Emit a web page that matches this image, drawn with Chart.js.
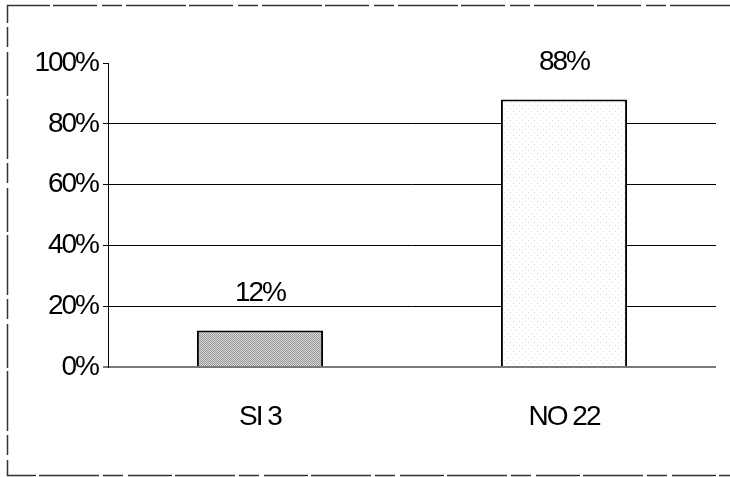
<!DOCTYPE html>
<html>
<head>
<meta charset="utf-8">
<script src="https://cdn.jsdelivr.net/npm/chart.js@4/dist/chart.umd.min.js"></script>
<style>
  html, body { margin: 0; padding: 0; background: #fff; }
  canvas { display: block; }
</style>
</head>
<body>
<canvas id="c" width="730" height="477"></canvas>
<script>
// Answers and their share of the total
const categories = ['SI 3', 'NO 22'];
const percentages = [12, 88];
const yTickValues = [0, 20, 40, 60, 80, 100];

const FONT = { family: '"Liberation Sans", Arial, sans-serif', size: 28 };

// Stippled fill for the bars
function stipple(bg, dot, step) {
  const p = document.createElement('canvas');
  p.width = step; p.height = step;
  const g = p.getContext('2d');
  g.fillStyle = bg; g.fillRect(0, 0, step, step);
  g.fillStyle = dot;
  g.fillRect(0, 0, 1, 1);
  g.fillRect(step / 2, step / 2, 1, 1);
  return g.createPattern(p, 'repeat');
}
const ctx0 = document.getElementById('c').getContext('2d');
const barFills = [stipple('#d6d6d6', '#9a9a9a', 2), stipple('#ffffff', '#dcdcdc', 6)];

// Frame around the whole figure (top, left and bottom edges)
const framePlugin = {
  id: 'frame',
  beforeDraw(chart) {
    const c = chart.ctx;
    c.letterSpacing = '-2px';
    c.save();
    c.strokeStyle = '#333';
    c.lineWidth = 1.5;
    c.setLineDash([60, 4, 20, 5, 44, 3]);
    c.beginPath();
    c.moveTo(730, 5.5); c.lineTo(7.5, 5.5);
    c.lineTo(7.5, 475.5); c.lineTo(730, 475.5);
    c.stroke();
    c.restore();
  }
};

// Percentage written above each bar
const valueLabels = {
  id: 'valueLabels',
  afterDatasetsDraw(chart) {
    const c = chart.ctx;
    const meta = chart.getDatasetMeta(0);
    c.save();
    c.font = `${FONT.size}px ${FONT.family}`;
    c.fillStyle = '#000';
    c.textAlign = 'center';
    c.textBaseline = 'middle';
    meta.data.forEach((bar, i) => {
      c.fillText(percentages[i] + '%', bar.x, bar.y - 37);
    });
    c.restore();
  }
};

new Chart(ctx0, {
  type: 'bar',
  data: {
    labels: categories,
    datasets: [{
      data: percentages,
      backgroundColor: barFills,
      borderColor: '#000',
      borderWidth: 2,
      borderSkipped: 'start',
      categoryPercentage: 1,
      barPercentage: 0.415
    }]
  },
  options: {
    responsive: false,
    animation: false,
    devicePixelRatio: 1,
    layout: { padding: { top: 63, right: 14, left: 0, bottom: 0 } },
    plugins: { legend: { display: false }, tooltip: { enabled: false } },
    scales: {
      x: {
        grid: { display: false, drawTicks: false },
        border: { display: false },
        ticks: { color: '#000', font: FONT, padding: 33, maxRotation: 0 },
        afterFit(s) { s.height = 110; }
      },
      y: {
        min: 0,
        max: 100,
        afterBuildTicks(s) { s.ticks = yTickValues.map(v => ({ value: v })); },
        grid: {
          color: c => c.tick.value === 100 ? 'rgba(0,0,0,0)' : (c.tick.value === 0 ? '#7a7a7a' : '#000'),
          lineWidth: c => c.tick.value === 0 ? 2 : 1,
          tickColor: c => c.tick.value === 0 ? '#7a7a7a' : '#000',
          tickLength: 5
        },
        border: { display: true, color: '#000', width: 1 },
        ticks: {
          color: '#000',
          font: FONT,
          padding: 5,
          callback: v => v + '%'
        },
        afterFit(s) { s.width = 108; }
      }
    }
  },
  plugins: [framePlugin, valueLabels]
});
</script>
</body>
</html>
